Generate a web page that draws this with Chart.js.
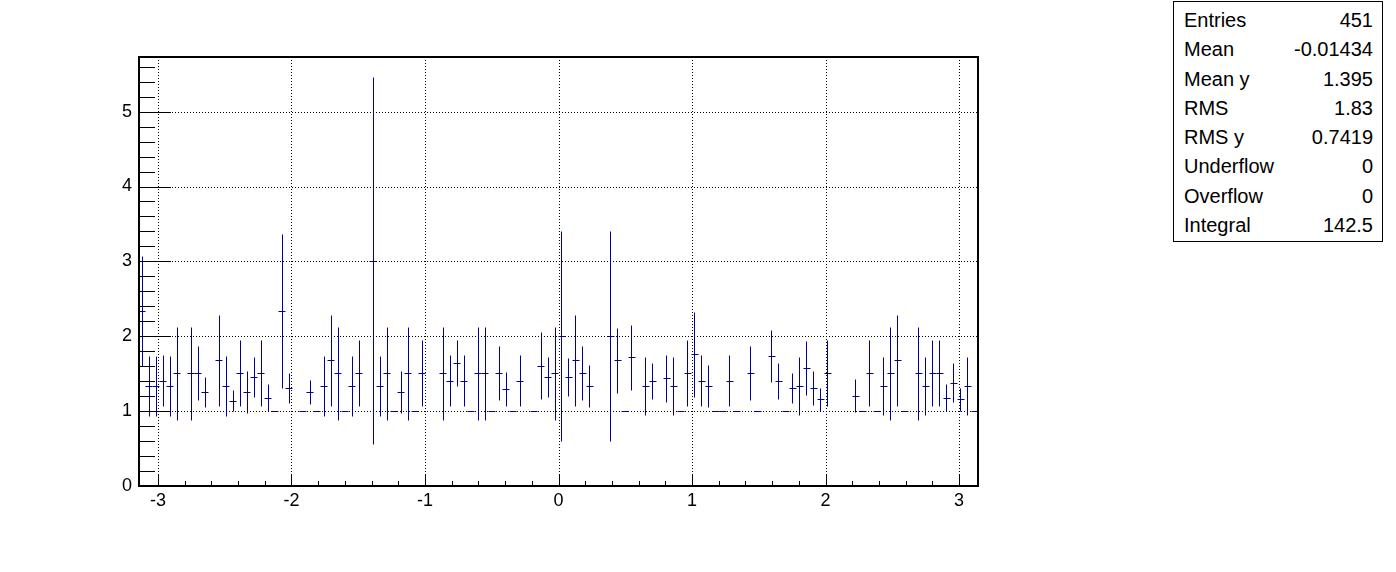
<!DOCTYPE html>
<html lang="en">
<head>
<meta charset="UTF-8">
<title>Profile</title>
<script src="https://cdn.jsdelivr.net/npm/chart.js"></script>
<style>
body {
    margin: 0;
    background: #fff;
    font-family: "Liberation Sans", Arial, sans-serif;
}
#wrap {
    position: relative;
    width: 1396px;
    height: 572px;
}
#stats {
    position: absolute;
    left: 1173px;
    top: 1px;
    width: 210px;
    height: 241px;
    box-sizing: border-box;
    border: 1px solid #000;
    padding-top: 4px;
    background: #fff;
}
#stats .row {
    display: flex;
    justify-content: space-between;
    height: 29.3px;
    line-height: 29.3px;
    font-size: 20px;
    padding: 0 9px 0 10px;
    color: #000;
}
</style>
</head>
<body>
<div id="wrap">
    <canvas id="profile" width="1396" height="572"></canvas>
    <div id="stats"></div>
</div>
<script>
// histogram binning
const nBins = 120;
const xLow = -Math.PI, xHigh = Math.PI;

// profile mean per bin (null = empty bin)
const binMeans = [
    2.33, 1.33, 1.33, 1.40, 1.33, 1.50, null, 1.50, 1.50, 1.25,
    null, 1.67, 1.33, 1.13, 1.50, 1.25, 1.45, 1.50, 1.17, 1.00,
    2.33, 1.30, null, 1.00, 1.25, 1.00, 1.33, 1.67, 1.50, 1.00,
    1.33, 1.50, null, 3.00, 1.33, 1.50, 1.00, 1.25, 1.50, 1.00,
    1.50, null, null, 1.50, 1.40, 1.64, 1.40, 1.00, 1.50, 1.50,
    1.00, 1.50, 1.29, 1.00, 1.40, null, 1.00, 1.60, 1.45, 1.50,
    2.00, 1.45, 1.67, 1.50, 1.33, null, null, 2.00, 1.67, 1.00,
    1.71, null, 1.33, 1.40, null, 1.43, 1.33, 1.00, 1.50, 1.75,
    1.40, 1.33, 1.00, 1.00, 1.40, 1.00, null, 1.50, 1.00, null,
    1.73, 1.40, 1.00, 1.30, 1.33, 1.57, 1.30, 1.15, 1.50, null,
    null, null, 1.20, 1.00, 1.50, 1.00, 1.33, 1.50, 1.67, 1.00,
    null, 1.50, 1.33, 1.50, 1.50, 1.17, 1.37, 1.15, 1.33, 1.00
];

// error on the mean per bin
const binErrors = [
    0.73, 0.40, 0.40, 0.34, 0.40, 0.62, null, 0.62, 0.36, 0.20,
    null, 0.61, 0.40, 0.14, 0.44, 0.28, 0.27, 0.44, 0.18, 0,
    1.03, 0.20, null, 0, 0.16, 0, 0.40, 0.61, 0.62, 0,
    0.40, 0.44, null, 2.45, 0.40, 0.62, 0, 0.28, 0.62, 0,
    0.44, null, null, 0.62, 0.34, 0.31, 0.34, 0, 0.62, 0.62,
    0, 0.36, 0.23, 0, 0.34, null, 0, 0.45, 0.27, 0.62,
    1.40, 0.25, 0.61, 0.36, 0.28, null, null, 1.40, 0.44, 0,
    0.43, null, 0.39, 0.24, null, 0.31, 0.39, 0, 0.44, 0.57,
    0.34, 0.28, 0, 0, 0.34, 0, null, 0.36, 0, null,
    0.35, 0.24, 0, 0.20, 0.39, 0.36, 0.23, 0.15, 0.44, null,
    null, null, 0.22, 0, 0.44, 0, 0.39, 0.62, 0.61, 0,
    null, 0.62, 0.39, 0.44, 0.44, 0.18, 0.26, 0.15, 0.39, 0
];

const xMajorTicks = [-3, -2, -1, 0, 1, 2, 3];
const yMajorTicks = [0, 1, 2, 3, 4, 5];
const yMax = 5.73;

const statLabels = ['Entries', 'Mean', 'Mean y', 'RMS', 'RMS y', 'Underflow', 'Overflow', 'Integral'];
const statValues = ['451', '-0.01434', '1.395', '1.83', '0.7419', '0', '0', '142.5'];

const lineColor = '#000099';

// stats box
const statsBox = document.getElementById('stats');
statLabels.forEach((label, i) => {
    const row = document.createElement('div');
    row.className = 'row';
    row.innerHTML = '<span>' + label + '</span><span>' + statValues[i] + '</span>';
    statsBox.appendChild(row);
});

// error bar segments, split by null points
const binWidth = (xHigh - xLow) / nBins;
const hSegs = [], vSegs = [];
binMeans.forEach((m, i) => {
    if (m === null) return;
    const lo = xLow + i * binWidth, hi = lo + binWidth, c = lo + binWidth / 2;
    hSegs.push({x: lo, y: m}, {x: hi, y: m}, {x: hi, y: null});
    const e = binErrors[i];
    if (e > 0) vSegs.push({x: c, y: m - e}, {x: c, y: m + e}, {x: c, y: null});
});

// snap 1px lines to the pixel grid so they stay crisp like the ROOT output
// (line elements build their path with Path2D, so patch that while datasets draw)
const snap = v => Math.floor(v) + 0.5;
const P2 = Path2D.prototype;
const origMove = P2.moveTo, origLine = P2.lineTo;
const crispLines = {
    id: 'crispLines',
    beforeDatasetsDraw() {
        P2.moveTo = function (x, y) { return origMove.call(this, snap(x), snap(y)); };
        P2.lineTo = function (x, y) { return origLine.call(this, snap(x), snap(y)); };
    },
    afterDatasetsDraw() {
        P2.moveTo = origMove;
        P2.lineTo = origLine;
    }
};

// ROOT style frame, dotted grid and inside ticks
const rootFrame = {
    id: 'rootFrame',
    beforeDatasetsDraw(chart) {
        const {ctx, chartArea: a, scales: {x, y}} = chart;
        ctx.save();
        ctx.strokeStyle = '#000';
        ctx.lineWidth = 1;
        ctx.setLineDash([1, 2]);
        ctx.beginPath();
        xMajorTicks.forEach(v => {
            const px = Math.round(x.getPixelForValue(v)) + 0.5;
            ctx.moveTo(px, a.top); ctx.lineTo(px, a.bottom);
        });
        yMajorTicks.forEach(v => {
            const py = Math.round(y.getPixelForValue(v)) + 0.5;
            ctx.moveTo(a.left, py); ctx.lineTo(a.right, py);
        });
        ctx.stroke();
        ctx.restore();
    },
    afterDatasetsDraw(chart) {
        const {ctx, chartArea: a, scales: {x, y}} = chart;
        ctx.save();
        ctx.strokeStyle = '#000';
        ctx.lineWidth = 1;
        ctx.beginPath();
        // x ticks
        for (let k = -15; k <= 15; k++) {
            const v = k * 0.2;
            if (v < xLow || v > xHigh) continue;
            const px = Math.round(x.getPixelForValue(v)) + 0.5;
            const len = (k % 5 === 0) ? 11 : 5;
            ctx.moveTo(px, a.bottom); ctx.lineTo(px, a.bottom - len);
        }
        // y ticks
        for (let k = 0; k <= 28; k++) {
            const v = k * 0.2;
            if (v > yMax) continue;
            const py = Math.round(y.getPixelForValue(v)) + 0.5;
            const len = (k % 5 === 0) ? 32 : 16;
            ctx.moveTo(a.left, py); ctx.lineTo(a.left + len, py);
        }
        ctx.stroke();
        ctx.lineWidth = 2;
        ctx.strokeRect(a.left, a.top, a.right - a.left, a.bottom - a.top);
        ctx.restore();
    }
};

const tickFont = {family: '"Liberation Sans", Arial, sans-serif', size: 18};

new Chart(document.getElementById('profile'), {
    type: 'line',
    data: {
        datasets: [
            {data: hSegs, borderColor: lineColor, borderWidth: 1, pointRadius: 0, spanGaps: false, tension: 0},
            {data: vSegs, borderColor: lineColor, borderWidth: 1, pointRadius: 0, spanGaps: false, tension: 0}
        ]
    },
    options: {
        responsive: false,
        animation: false,
        layout: {padding: {left: 0, top: 57, right: 418, bottom: 0}},
        plugins: {legend: {display: false}, tooltip: {enabled: false}},
        scales: {
            x: {
                type: 'linear',
                min: xLow,
                max: xHigh,
                afterBuildTicks: s => { s.ticks = xMajorTicks.map(v => ({value: v})); },
                afterFit: s => { s.height = 86; },
                grid: {display: false, drawTicks: false},
                border: {display: false},
                ticks: {font: tickFont, color: '#000', padding: 4, maxRotation: 0, autoSkip: false}
            },
            y: {
                type: 'linear',
                min: 0,
                max: yMax,
                afterBuildTicks: s => { s.ticks = yMajorTicks.map(v => ({value: v})); },
                afterFit: s => { s.width = 139; },
                grid: {display: false, drawTicks: false},
                border: {display: false},
                ticks: {font: tickFont, color: '#000', padding: 7, autoSkip: false}
            }
        }
    },
    plugins: [crispLines, rootFrame]
});
</script>
</body>
</html>
